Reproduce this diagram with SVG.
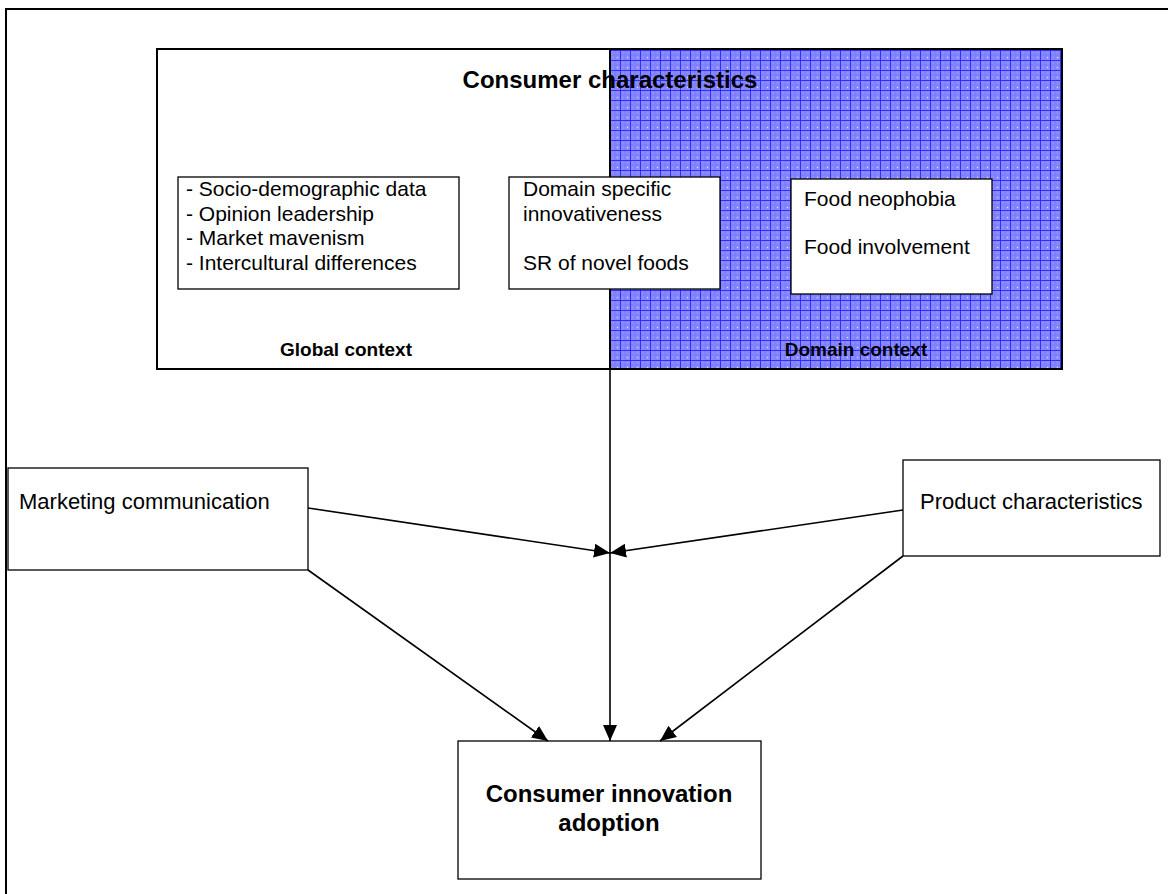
<svg xmlns="http://www.w3.org/2000/svg" width="1168" height="894" viewBox="0 0 1168 894">
<defs>
<pattern id="grid" x="0" y="0" width="10" height="10" patternUnits="userSpaceOnUse">
<rect width="10" height="10" fill="#8a8aff"/>
<path d="M5 0V10M0 5H10" stroke="#7a7aff" stroke-width="1"/>
<path d="M0.5 0V10M0 0.5H10" stroke="#2e2eff" stroke-width="1"/>
<rect x="7" y="7" width="1" height="1" fill="#e6e6ff"/>
</pattern>
<marker id="ah" viewBox="0 0 16 14" refX="16" refY="7" markerWidth="16" markerHeight="14" markerUnits="userSpaceOnUse" orient="auto">
<path d="M0 0L16 7L0 14Z" fill="#000"/>
</marker>
</defs>
<style>
.box{fill:#fff;stroke:#000;stroke-width:1.3}
.t{font-family:"Liberation Sans",Arial,sans-serif;font-size:21px;fill:#000}
.m{font-family:"Liberation Sans",Arial,sans-serif;font-size:22px;fill:#000}
.b{font-family:"Liberation Sans",Arial,sans-serif;font-weight:bold;fill:#000}
.ln{stroke:#000;stroke-width:1.6;fill:none}
</style>
<rect x="6" y="9" width="1300" height="1000" fill="#fff" stroke="#000" stroke-width="2"/>
<g id="consumer-characteristics">
<rect x="157" y="49" width="905" height="320" fill="#fff" stroke="#000" stroke-width="2"/>
<rect x="610" y="49" width="452" height="320" fill="url(#grid)" stroke="#000" stroke-width="2"/>
<text class="b" x="610" y="88" font-size="24" text-anchor="middle">Consumer characteristics</text>
<text class="b" x="346" y="356" font-size="19" text-anchor="middle">Global context</text>
<text class="b" x="856" y="356" font-size="19" text-anchor="middle">Domain context</text>
</g>
<g id="global-list">
<rect class="box" x="178" y="177" width="281" height="112"/>
<text class="t" x="186" y="196">- Socio-demographic data</text>
<text class="t" x="186" y="220.5">- Opinion leadership</text>
<text class="t" x="186" y="245">- Market mavenism</text>
<text class="t" x="186" y="269.5">- Intercultural differences</text>
</g>
<g id="domain-specific">
<rect class="box" x="509" y="177" width="211" height="112"/>
<text class="t" x="523" y="196">Domain specific</text>
<text class="t" x="523" y="220.5">innovativeness</text>
<text class="t" x="523" y="269.5">SR of novel foods</text>
</g>
<g id="food">
<rect class="box" x="791" y="179" width="201" height="115"/>
<text class="t" x="804" y="206">Food neophobia</text>
<text class="t" x="804" y="254">Food involvement</text>
</g>
<g id="marketing">
<rect class="box" x="8" y="468" width="300" height="102"/>
<text class="m" x="19" y="509">Marketing communication</text>
</g>
<g id="product">
<rect class="box" x="903" y="460" width="257" height="96"/>
<text class="m" x="920" y="509">Product characteristics</text>
</g>
<g id="adoption">
<rect class="box" x="458" y="741" width="303" height="138"/>
<text class="b" x="609" y="802" font-size="24" text-anchor="middle">Consumer innovation</text>
<text class="b" x="609" y="831" font-size="24" text-anchor="middle">adoption</text>
</g>
<g id="connectors">
<line class="ln" x1="610" y1="369" x2="610" y2="741" marker-end="url(#ah)"/>
<line class="ln" x1="308" y1="508" x2="610" y2="553" marker-end="url(#ah)"/>
<line class="ln" x1="903" y1="510" x2="610" y2="553" marker-end="url(#ah)"/>
<line class="ln" x1="308" y1="570" x2="548" y2="741" marker-end="url(#ah)"/>
<line class="ln" x1="903" y1="556" x2="660" y2="741" marker-end="url(#ah)"/>
</g>
</svg>
